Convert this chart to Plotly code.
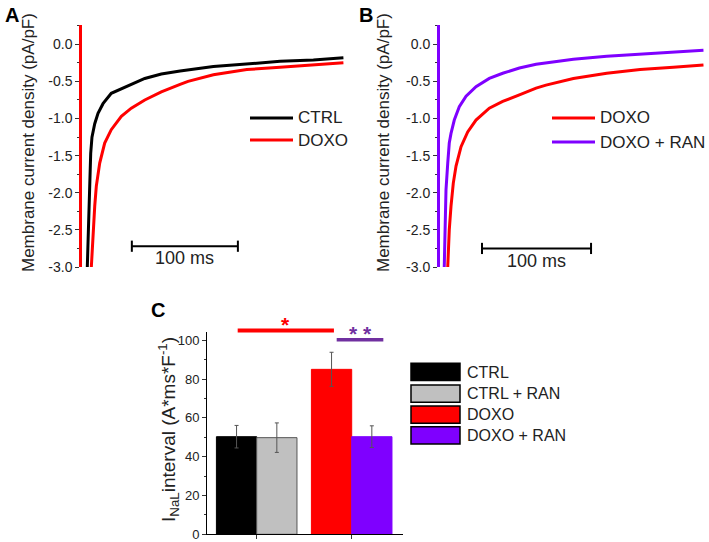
import plotly.graph_objects as go

W, H = 709, 542
FONT = "Liberation Sans, Arial, sans-serif"
TXT = "#222222"

# ---------------- data ----------------
# Panel A: time (ms) / membrane current density (pA/pF)
a_ctrl_t = [5.0, 6.3, 7.3, 8.2, 9.4, 12.0, 15.1, 19.8, 27.6, 37.1, 46.5, 59.2, 74.8, 92.5, 123.9, 155.4, 186.8, 218.2, 246.5]
a_ctrl_i = [-3.0, -2.37, -1.83, -1.47, -1.25, -1.07, -0.93, -0.80, -0.66, -0.60, -0.53, -0.46, -0.40, -0.36, -0.30, -0.26, -0.23, -0.21, -0.18]
a_doxo_t = [8.8, 10.4, 12.0, 13.5, 16.7, 21.4, 27.6, 37.1, 46.5, 59.2, 74.8, 92.5, 100.0, 123.9, 155.4, 186.8, 218.2, 246.5]
a_doxo_i = [-3.0, -2.50, -2.18, -1.91, -1.60, -1.33, -1.15, -0.97, -0.86, -0.75, -0.64, -0.54, -0.50, -0.41, -0.34, -0.31, -0.28, -0.25]

# Panel B
b_doxo_t = [7.1, 8.5, 10.1, 12.2, 14.7, 19.3, 25.4, 33.0, 45.2, 57.5, 72.8, 88.1, 97.2, 122.3, 152.9, 183.5, 214.0, 241.6]
b_doxo_i = [-3.0, -2.50, -2.18, -1.87, -1.64, -1.38, -1.18, -1.02, -0.86, -0.77, -0.68, -0.59, -0.55, -0.46, -0.39, -0.34, -0.31, -0.28]
b_ran_t = [3.9, 4.9, 5.5, 7.1, 8.5, 10.1, 13.1, 17.7, 23.9, 33.0, 45.2, 57.5, 72.8, 88.1, 122.3, 152.9, 183.5, 214.0, 241.6]
b_ran_i = [-3.0, -2.28, -1.96, -1.60, -1.33, -1.20, -1.02, -0.84, -0.70, -0.57, -0.46, -0.39, -0.32, -0.27, -0.20, -0.16, -0.13, -0.11, -0.08]

y_ticks = [0.0, -0.5, -1.0, -1.5, -2.0, -2.5, -3.0]
y_ticktext = ["0.0", "-0.5", "-1.0", "-1.5", "-2.0", "-2.5", "-3.0"]
y_minor = [0.25, -0.25, -0.75, -1.25, -1.75, -2.25, -2.75]
scale_bar_ms = 100

# Panel C
c_groups = ["CTRL", "DOXO"]
c_plain = [50.3, 85.0]        # CTRL, DOXO
c_plain_err = [5.8, 8.8]
c_ran = [49.8, 50.3]          # CTRL + RAN, DOXO + RAN
c_ran_err = [7.6, 5.6]
c_legend = ["CTRL", "CTRL + RAN", "DOXO", "DOXO + RAN"]
c_yticks = [0, 20, 40, 60, 80, 100]

# ---------------- styles ----------------
BLACK = "#000000"
RED = "#FF0000"
VIOLET = "#7F00FF"
GREY = "#C0C0C0"
SIGPURPLE = "#7030A0"
c_legend_colors = [BLACK, GREY, RED, VIOLET]


def px_x(p):
    return p / W


def px_y(p):
    return 1 - p / H


A_X = [px_x(82), px_x(345)]
B_X = [px_x(440), px_x(705)]
AB_Y = [px_y(267), px_y(25)]
A_RANGE = [0, 248]
B_RANGE = [0, 243]
AB_YRANGE = [-3, 0.26]

C_X = [px_x(207), px_x(403)]
C_Y = [px_y(534.3), px_y(331.7)]
C_XRANGE = [-0.523, 1.54]
C_YRANGE = [0, 104.4]


def c_paper(pos, val):
    px = C_X[0] + (pos - C_XRANGE[0]) / (C_XRANGE[1] - C_XRANGE[0]) * (C_X[1] - C_X[0])
    py = C_Y[0] + (val - C_YRANGE[0]) / (C_YRANGE[1] - C_YRANGE[0]) * (C_Y[1] - C_Y[0])
    return px, py


fig = go.Figure()

# ---- traces A ----
fig.add_trace(go.Scatter(x=a_ctrl_t, y=a_ctrl_i, mode="lines", name="CTRL",
                         line=dict(color=BLACK, width=3), xaxis="x", yaxis="y"))
fig.add_trace(go.Scatter(x=a_doxo_t, y=a_doxo_i, mode="lines", name="DOXO",
                         line=dict(color=RED, width=3), xaxis="x", yaxis="y"))
# ---- traces B ----
fig.add_trace(go.Scatter(x=b_doxo_t, y=b_doxo_i, mode="lines", name="DOXO",
                         line=dict(color=RED, width=3), xaxis="x2", yaxis="y2"))
fig.add_trace(go.Scatter(x=b_ran_t, y=b_ran_i, mode="lines", name="DOXO + RAN",
                         line=dict(color=VIOLET, width=3), xaxis="x2", yaxis="y2"))

# ---- scale bars ----
for xa, ya, start, level in [("x", "y", 47, -2.72), ("x2", "y2", 38.5, -2.75)]:
    fig.add_trace(go.Scatter(x=[start, start + scale_bar_ms], y=[level, level],
                             mode="lines+markers", line=dict(color=BLACK, width=2),
                             marker=dict(symbol="line-ns", size=8, color=BLACK,
                                         line=dict(color=BLACK, width=2)),
                             xaxis=xa, yaxis=ya, showlegend=False, hoverinfo="skip"))

# ---- bars C ----
fig.add_trace(go.Bar(x=c_groups, y=c_plain, name="plain",
                     marker=dict(color=[BLACK, RED], line=dict(color=[BLACK, RED], width=1)),
                     error_y=dict(type="data", array=c_plain_err, color="#555555",
                                  thickness=1, width=2),
                     xaxis="x3", yaxis="y3"))
fig.add_trace(go.Bar(x=c_groups, y=c_ran, name="RAN",
                     marker=dict(color=[GREY, VIOLET], line=dict(color=["#555555", VIOLET], width=1)),
                     error_y=dict(type="data", array=c_ran_err, color="#555555",
                                  thickness=1, width=2),
                     xaxis="x3", yaxis="y3"))

tickfont_ab = dict(family=FONT, size=14, color=TXT)
tickfont_c = dict(family=FONT, size=13, color=TXT)


def ab_yaxis(linecolor, lw):
    return dict(domain=AB_Y, range=AB_YRANGE, showline=True, linecolor=linecolor,
                linewidth=lw, ticks="outside", ticklen=4, tickwidth=1, tickcolor="#333333",
                tickvals=y_ticks, ticktext=y_ticktext, tickfont=tickfont_ab, automargin=False,
                minor=dict(tickvals=y_minor, ticks="outside", ticklen=2.5, tickcolor="#333333"),
                showgrid=False, zeroline=False, fixedrange=True)


layout = dict(
    width=W, height=H, margin=dict(l=0, r=0, t=0, b=0, pad=0, autoexpand=False),
    paper_bgcolor="white", plot_bgcolor="rgba(0,0,0,0)", showlegend=False,
    font=dict(family=FONT, color=TXT),
    barmode="group", bargap=0.152, bargroupgap=0,
    xaxis=dict(domain=A_X, range=A_RANGE, visible=False, anchor="y", fixedrange=True,
               automargin=False),
    yaxis=dict(anchor="x", **ab_yaxis(RED, 2.5)),
    xaxis2=dict(domain=B_X, range=B_RANGE, visible=False, anchor="y2", fixedrange=True,
                automargin=False),
    yaxis2=dict(anchor="x2", **ab_yaxis(VIOLET, 3)),
    xaxis3=dict(domain=C_X, range=C_XRANGE, anchor="y3", type="category", showline=True,
                linecolor=BLACK, linewidth=1, ticks="outside", ticklen=4, tickcolor="#333333",
                showticklabels=False, showgrid=False, zeroline=False, fixedrange=True,
                automargin=False),
    yaxis3=dict(domain=C_Y, range=C_YRANGE, anchor="x3", showline=True, linecolor=BLACK,
                linewidth=1, ticks="outside", ticklen=4, tickcolor="#333333",
                tickvals=c_yticks, tickfont=tickfont_c, automargin=False,
                minor=dict(dtick=10, ticks="outside", ticklen=2.5, tickcolor="#333333"),
                showgrid=False, zeroline=False, fixedrange=True),
)
fig.update_layout(**layout)

annotations = []
shapes = []

# panel letters
for letter, x, y in [("A", 3, 14.5), ("B", 357, 14.5), ("C", 149, 310)]:
    annotations.append(dict(text="<b>%s</b>" % letter, x=px_x(x), y=px_y(y), xref="paper",
                            yref="paper", xanchor="left", yanchor="middle", showarrow=False,
                            font=dict(family=FONT, size=20, color=BLACK)))

# axis titles
for x, y in [(28, 143), (383, 143)]:
    annotations.append(dict(text="Membrane current density (pA/pF)", x=px_x(x), y=px_y(y),
                            xref="paper", yref="paper", xanchor="center", yanchor="middle",
                            textangle=-90, showarrow=False,
                            font=dict(family=FONT, size=17, color=TXT)))
annotations.append(dict(text="I<sub>NaL</sub>interval (A*ms*F<sup>-1</sup>)", x=px_x(168),
                        y=px_y(430), xref="paper", yref="paper", xanchor="center",
                        yanchor="middle", textangle=-90, showarrow=False,
                        font=dict(family=FONT, size=19, color=TXT)))

# scale bar labels
for xa, ya, start, level, shift in [("x", "y", 47, -2.72, -12), ("x2", "y2", 38.5, -2.75, -13)]:
    annotations.append(dict(text="%d ms" % scale_bar_ms, x=start + scale_bar_ms / 2, y=level,
                            xref=xa, yref=ya, yshift=shift, xanchor="center", yanchor="middle",
                            showarrow=False, font=dict(family=FONT, size=18, color=TXT)))

# legends A and B (line + text)
for (x0, x1, tx), entries in [((250, 293, 296), [("CTRL", BLACK, 118), ("DOXO", RED, 140)]),
                              ((552, 595, 598), [("DOXO", RED, 118), ("DOXO + RAN", VIOLET, 142)])]:
    for name, col, yy in entries:
        shapes.append(dict(type="line", xref="paper", yref="paper", x0=px_x(x0), x1=px_x(x1),
                           y0=px_y(yy), y1=px_y(yy), line=dict(color=col, width=3)))
        annotations.append(dict(text=name, x=px_x(tx), y=px_y(yy), xref="paper", yref="paper",
                                xanchor="left", yanchor="middle", showarrow=False,
                                font=dict(family=FONT, size=17, color=TXT)))

# legend C (boxes + text)
box_tops = [363.3, 385, 406, 426.7]
for name, col, top in zip(c_legend, c_legend_colors, box_tops):
    shapes.append(dict(type="rect", xref="paper", yref="paper", x0=px_x(411), x1=px_x(460),
                       y0=px_y(top + 17.3), y1=px_y(top), fillcolor=col,
                       line=dict(color=BLACK, width=1.5)))
    annotations.append(dict(text=name, x=px_x(465), y=px_y(top + 8.7), xref="paper",
                            yref="paper", xanchor="left", yanchor="middle", showarrow=False,
                            font=dict(family=FONT, size=16, color=TXT)))

# significance bars in panel C
for p0, p1, lvl, label, col, lw, shift in [(-0.2, 0.813, 105, "*", RED, 4, 6),
                                            (0.842, 1.333, 100.3, "* *", SIGPURPLE, 3.5, 6)]:
    x0, y0 = c_paper(p0, lvl)
    x1, _ = c_paper(p1, lvl)
    shapes.append(dict(type="line", xref="paper", yref="paper", x0=x0, x1=x1, y0=y0, y1=y0,
                       line=dict(color=col, width=lw)))
    annotations.append(dict(text="<b>%s</b>" % label, x=(x0 + x1) / 2, y=y0, xref="paper",
                            yref="paper", yshift=shift, xanchor="center", yanchor="middle",
                            showarrow=False, font=dict(family=FONT, size=21, color=col)))

fig.update_layout(annotations=annotations, shapes=shapes)
post = "document.body.style.margin='0';document.body.style.overflow='hidden';"
fig.write_html("out.html", post_script=post, config={"displayModeBar": False})
